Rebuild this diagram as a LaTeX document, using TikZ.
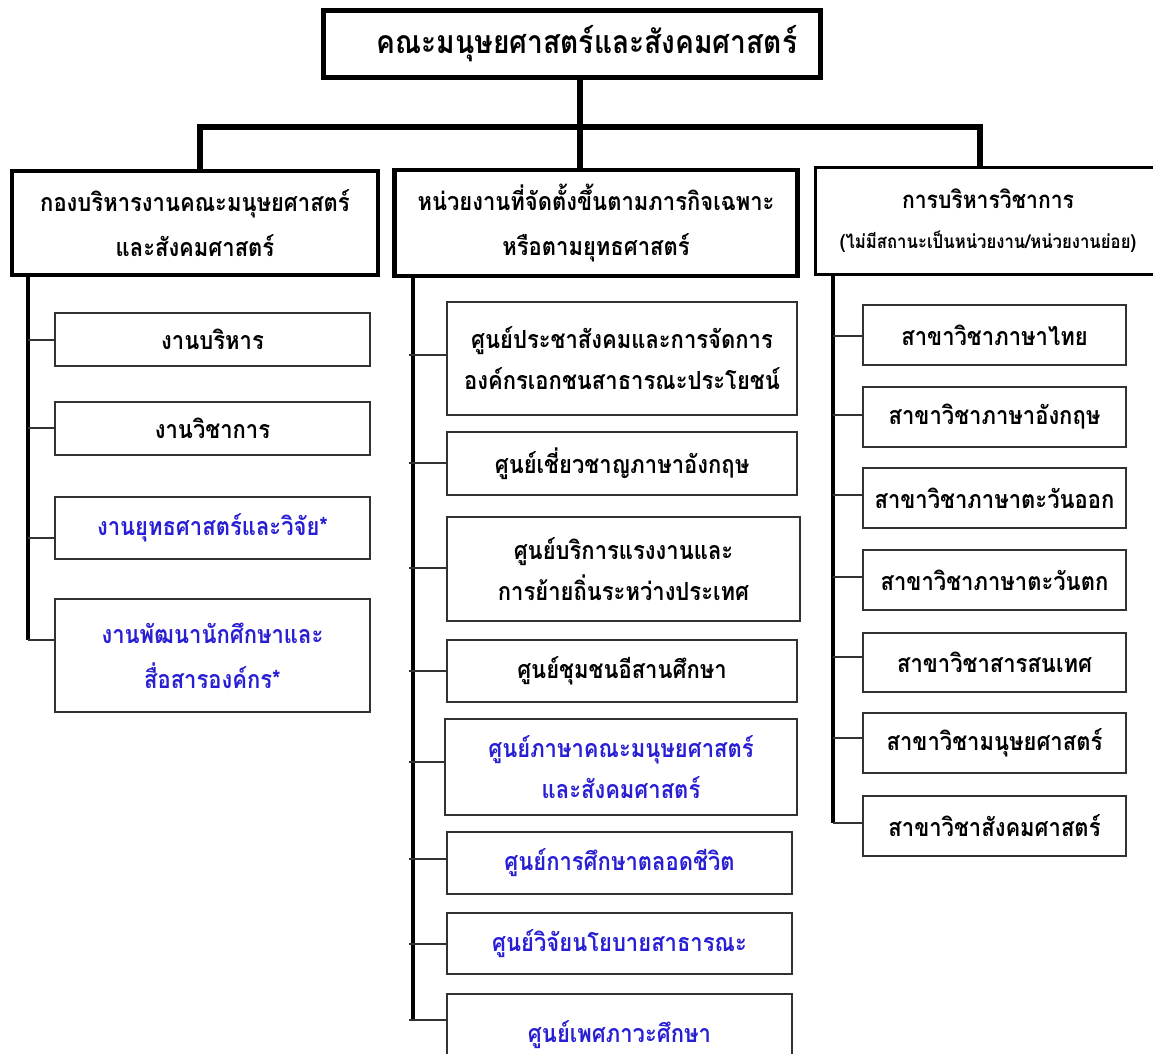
\documentclass[tikz,border=0pt]{standalone}
\usepackage{fontspec}
\setmainfont[Script=Thai,FakeStretch=0.88]{Loma}
\definecolor{unitblue}{RGB}{40,30,210}
\definecolor{boxgray}{RGB}{50,50,50}
\begin{document}
\begin{tikzpicture}[x=1pt,y=-1pt,
    head/.style={draw,line width=4.5pt,inner sep=0pt,align=center,font=\bfseries\fontsize{25}{45}\selectfont},
    unit/.style={draw=boxgray,line width=1.6pt,inner sep=0pt,align=center,font=\bfseries\fontsize{25}{41}\selectfont},
    new/.style={text=unitblue},
    trunk/.style={line width=6pt},
    spine/.style={line width=4.5pt},
    twig/.style={line width=1.3pt,draw=boxgray}]
  \useasboundingbox (0,0) rectangle (1153,1054);

  % faculty
  \node[head,minimum width=497,minimum height=67,font=\bfseries\fontsize{32}{34}\selectfont] (top) at (572,44) {\hspace*{30pt}คณะมนุษยศาสตร์และสังคมศาสตร์};

  % three branches
  \node[head,minimum width=366,minimum height=104] (lhead) at (195,223) {กองบริหารงานคณะมนุษยศาสตร์\\และสังคมศาสตร์};
  \node[head,minimum width=403,minimum height=106] (mhead) at (596,223) {หน่วยงานที่จัดตั้งขึ้นตามภารกิจเฉพาะ\\หรือตามยุทธศาสตร์};
  \node[head,line width=3pt,minimum width=345,minimum height=107,font=\bfseries\fontsize{24}{40}\selectfont] (rhead) at (988,221) {การบริหารวิชาการ\\{\fontsize{19}{19}\selectfont(ไม่มีสถานะเป็นหน่วยงาน/หน่วยงานย่อย)}};

  \coordinate (hub) at (580,127);
  \coordinate (busl) at (200,127);
  \coordinate (busr) at (980,127);
  \draw[trunk] (top.south -| hub) -- (mhead.north -| hub);
  \draw[trunk] (busl |- lhead.north) -- (busl) -- (busr) -- (busr |- rhead.north);

  % left column
  \node[unit,minimum width=315,minimum height=53] (l1) at (212.5,339.5) {งานบริหาร};
  \node[unit,minimum width=315,minimum height=53] (l2) at (212.5,428.5) {งานวิชาการ};
  \node[unit,new,minimum width=315,minimum height=62] (l3) at (212.5,528) {งานยุทธศาสตร์และวิจัย*};
  \node[unit,new,minimum width=315,minimum height=113,font=\bfseries\fontsize{25}{45}\selectfont] (l4) at (212.5,655.5) {งานพัฒนานักศึกษาและ\\สื่อสารองค์กร*};

  \foreach \n/\y in {1/340,2/428,3/538,4/640}
    \coordinate (lj\n) at (28,\y);
  \draw[spine] (lj1 |- lhead.south) -- (lj4);
  \foreach \n in {1,...,4}
    \draw[twig] (lj\n) -- (lj\n -| l\n.west);

  % middle column
  \node[unit,minimum width=350,minimum height=113] (m1) at (622,358.5) {ศูนย์ประชาสังคมและการจัดการ\\องค์กรเอกชนสาธารณะประโยชน์};
  \node[unit,minimum width=350,minimum height=63] (m2) at (622,463.5) {ศูนย์เชี่ยวชาญภาษาอังกฤษ};
  \node[unit,minimum width=353,minimum height=104] (m3) at (623.5,569) {ศูนย์บริการแรงงานและ\\การย้ายถิ่นระหว่างประเทศ};
  \node[unit,minimum width=350,minimum height=62] (m4) at (622,671) {ศูนย์ชุมชนอีสานศึกษา};
  \node[unit,new,minimum width=352,minimum height=96] (m5) at (621,767) {ศูนย์ภาษาคณะมนุษยศาสตร์\\และสังคมศาสตร์};
  \node[unit,new,minimum width=345,minimum height=62] (m6) at (619.5,863) {ศูนย์การศึกษาตลอดชีวิต};
  \node[unit,new,minimum width=345,minimum height=61] (m7) at (619.5,943.5) {ศูนย์วิจัยนโยบายสาธารณะ};
  \node[unit,new,minimum width=345,minimum height=76,text depth=0pt] (m8) at (619.5,1032) {ศูนย์เพศภาวะศึกษา};

  \foreach \n/\y in {1/355,2/463,3/568,4/671,5/762,6/859,7/944,8/1020}
    \coordinate (mj\n) at (413,\y);
  \draw[spine] (mj1 |- mhead.south) -- (mj8);
  \foreach \n in {1,...,8}
    \draw[twig] ([xshift=-4]mj\n) -- (mj\n -| m\n.west);

  % right column
  \node[unit,minimum width=263,minimum height=60] (r1) at (994.5,335) {สาขาวิชาภาษาไทย};
  \node[unit,minimum width=263,minimum height=60] (r2) at (994.5,417) {สาขาวิชาภาษาอังกฤษ};
  \node[unit,minimum width=263,minimum height=60] (r3) at (994.5,498) {สาขาวิชาภาษาตะวันออก};
  \node[unit,minimum width=263,minimum height=60] (r4) at (994.5,580) {สาขาวิชาภาษาตะวันตก};
  \node[unit,minimum width=263,minimum height=59] (r5) at (994.5,662.5) {สาขาวิชาสารสนเทศ};
  \node[unit,minimum width=263,minimum height=60] (r6) at (994.5,743) {สาขาวิชามนุษยศาสตร์};
  \node[unit,minimum width=263,minimum height=60] (r7) at (994.5,826) {สาขาวิชาสังคมศาสตร์};

  \foreach \n/\y in {1/336,2/415,3/495,4/577,5/657,6/738,7/823}
    \coordinate (rj\n) at (833,\y);
  \draw[spine] (rj1 |- rhead.south) -- (rj7);
  \foreach \n in {1,...,7}
    \draw[twig] (rj\n) -- (rj\n -| r\n.west);
\end{tikzpicture}
\end{document}
